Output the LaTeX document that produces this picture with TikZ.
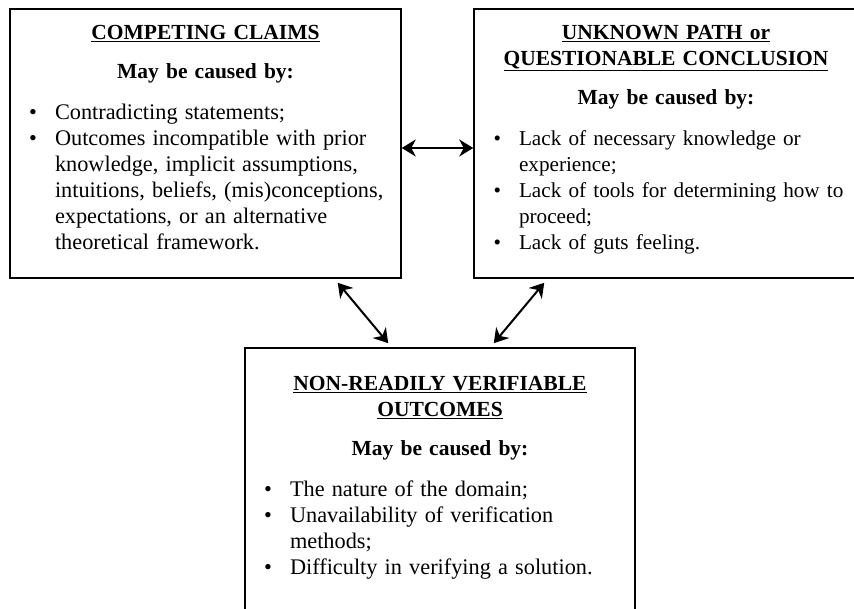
\documentclass[tikz,border=0pt]{standalone}
\usepackage{fontspec}
\setmainfont{Liberation Serif}
\usepackage{enumitem}
\usetikzlibrary{arrows.meta, positioning}

\setlist[itemize]{label=\textbullet, labelindent=0pt, labelwidth=17pt, labelsep=18pt,
  leftmargin=!, align=right, topsep=0pt, partopsep=0pt, itemsep=0pt, parsep=0pt,
  before=\fontsize{22.3pt}{26pt}\selectfont}

\begin{document}
\begin{tikzpicture}[
  x=1pt, y=-1pt,
  frame/.style={draw, line width=1.5pt, inner sep=0pt},
  txt/.style={inner sep=0pt, align=left, font=\fontsize{21.5pt}{26pt}\selectfont},
  arr/.style={{Stealth[length=14pt, width=17pt, inset=4.5pt]}-{Stealth[length=14pt, width=17pt, inset=4.5pt]},
    line width=2pt}
]
\useasboundingbox (0,0) rectangle (854,609);

\node[frame, minimum width=391pt, minimum height=269pt] (claims) at (205.5,143.5) {};
\node[frame, minimum width=384pt, minimum height=269pt] (path) at (666,143.5) {};
\node[frame, minimum width=390pt, minimum height=267pt] (outcomes) at (440,481.5) {};

\node[txt, text width=371pt, below=17pt of claims.north] (claimstxt) {%
  {\centering\underline{\textbf{COMPETING CLAIMS}}\par}
  \vspace{13pt}
  {\centering\textbf{May be caused by:}\par}
  \vspace{15pt}
  \begin{itemize}
    \item Contradicting statements;
    \item Outcomes incompatible with prior\newline knowledge, implicit assumptions,\newline
      intuitions, beliefs, (mis)conceptions,\newline expectations, or an alternative\newline
      theoretical framework.
  \end{itemize}};

\node[txt, text width=364pt, below=17pt of path.north] (pathtxt) {%
  {\centering\underline{\textbf{UNKNOWN PATH or}}\par
   \underline{\textbf{QUESTIONABLE CONCLUSION}}\par}
  \vspace{13pt}
  {\centering\textbf{May be caused by:}\par}
  \vspace{15pt}
  \begin{itemize}[rightmargin=-14pt, before=\fontsize{21.2pt}{26pt}\selectfont]
    \item Lack of necessary knowledge or\newline experience;
    \item Lack of tools for determining how to\newline proceed;
    \item Lack of guts feeling.
  \end{itemize}};

\node[txt, text width=370pt, below=29pt of outcomes.north] (outcomestxt) {%
  {\centering\underline{\textbf{NON-READILY VERIFIABLE}}\par
   \underline{\textbf{OUTCOMES}}\par}
  \vspace{13pt}
  {\centering\textbf{May be caused by:}\par}
  \vspace{15pt}
  \begin{itemize}
    \item The nature of the domain;
    \item Unavailability of verification\newline methods;
    \item Difficulty in verifying a solution.
  \end{itemize}};

\draw[arr] ([yshift=-4.5pt]claims.east) -- ([yshift=-4.5pt]path.west);
\draw[arr] ([xshift=-64pt, yshift=-4pt]claims.south east) -- ([xshift=144pt, yshift=4pt]outcomes.north west);
\draw[arr] ([xshift=71pt, yshift=-4pt]path.south west) -- ([xshift=-142pt, yshift=4pt]outcomes.north east);
\end{tikzpicture}
\end{document}
